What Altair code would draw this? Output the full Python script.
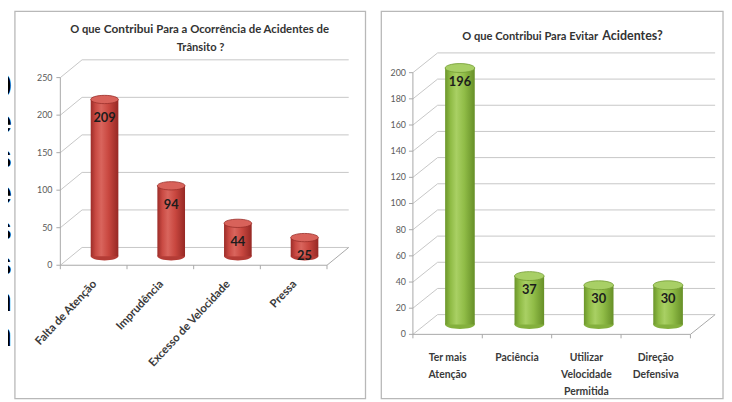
import altair as alt
import pandas as pd

# ---------------- data ----------------
left_categories = ["Falta de Atenção", "Imprudência", "Excesso de Velocidade", "Pressa"]
left_values = [209, 94, 44, 25]
left_ticks = [0, 50, 100, 150, 200, 250]
left_title_parts = ["O que", "Contribui", "Para a Ocorrência de Acidentes de", "Trânsito ?"]

right_categories = ["Ter mais Atenção", "Paciência", "Utilizar Velocidade Permitida", "Direção Defensiva"]
right_labels = ["Ter mais\nAtenção", "Paciência", "Utilizar\nVelocidade\nPermitida", "Direção\nDefensiva"]
right_values = [196, 37, 30, 30]
right_ticks = [0, 20, 40, 60, 80, 100, 120, 140, 160, 180, 200]
right_title_parts = ["O que Contribui Para Evitar", "Acidentes?"]

side_letters = "0\ne\ns\ne\ns\ns\nn\nn"

# ---------------- style ----------------
FONT = "Lato"
GRID = "#c6c6c6"
AXIS = "#a8a8a8"
BORDER = "#b8b8b8"
TITLE_C = "#333333"
ELLIPSE = "M-1,0A1,0.3,0,1,1,1,0A1,0.3,0,1,1,-1,0Z"

RED_STOPS = [("#9c2c28", 0.0), ("#c94a43", 0.18), ("#d9655d", 0.38), ("#c8473f", 0.65), ("#962824", 1.0)]
GREEN_STOPS = [("#6b962a", 0.0), ("#8fbb45", 0.18), ("#a9d064", 0.38), ("#90bc47", 0.65), ("#668f27", 1.0)]


def grad(stops):
    return alt.Gradient(
        gradient="linear",
        stops=[alt.GradientStop(color=c, offset=o) for c, o in stops],
        x1=0, x2=1, y1=0, y2=0,
    )


ONE = pd.DataFrame({"a": [0]})


def title_piece(text, x, y, size, align):
    return alt.Chart(ONE).mark_text(
        font=FONT, fontSize=size, fontWeight="bold", color=TITLE_C, align=align,
        baseline="alphabetic").encode(x=alt.value(x), y=alt.value(y), text=alt.value(text))


def panel(cats, labels, values, ticks, ymax, yrange, xrange, dx, dy, bw,
          stops, body_mid, top_fill, top_stroke, val_off, ytick_x,
          rotated, label_y, titles, width, height):
    n = len(cats)
    bars = pd.DataFrame({"cat": cats, "label": labels, "value": values, "zero": [0] * n})
    tk = pd.DataFrame({"tick": ticks})
    zero = pd.DataFrame({"tick": [0], "hi": [ymax]})

    xs = alt.Scale(domain=cats, range=list(xrange), paddingInner=0, paddingOuter=0)
    ys = alt.Scale(domain=[0, ymax], range=list(yrange))
    X = alt.X("cat:N", scale=xs, axis=None)
    x0, x1 = xrange

    def Yq(f):
        return alt.Y(f, type="quantitative", scale=ys, axis=None)

    border = alt.Chart(ONE).mark_rect(fill="white", stroke=BORDER, strokeWidth=1.3).encode(
        x=alt.value(0), x2=alt.value(width), y=alt.value(0), y2=alt.value(height))

    back = alt.Chart(tk).mark_rule(color=GRID, strokeWidth=1, yOffset=dy).encode(
        x=alt.value(x0 + dx), x2=alt.value(x1 + dx), y=Yq("tick"))
    diag = alt.Chart(tk).mark_rule(color=GRID, strokeWidth=1, y2Offset=dy).encode(
        x=alt.value(x0), x2=alt.value(x0 + dx), y=Yq("tick"), y2=alt.Y2("tick"))
    floor_front = alt.Chart(zero).mark_rule(color=AXIS, strokeWidth=1).encode(
        x=alt.value(x0), x2=alt.value(x1), y=Yq("tick"))
    floor_right = alt.Chart(zero).mark_rule(color=AXIS, strokeWidth=1, y2Offset=dy).encode(
        x=alt.value(x1), x2=alt.value(x1 + dx), y=Yq("tick"), y2=alt.Y2("tick"))
    yaxis = alt.Chart(zero).mark_rule(color=AXIS, strokeWidth=1).encode(
        x=alt.value(x0), y=Yq("tick"), y2=alt.Y2("hi"))
    yticks = alt.Chart(tk).mark_rule(color=AXIS, strokeWidth=1).encode(
        x=alt.value(x0 - 4), x2=alt.value(x0), y=Yq("tick"))
    xticks = alt.Chart(bars).mark_rule(color=AXIS, strokeWidth=1, y2Offset=4).encode(
        x=alt.X("cat:N", scale=xs, axis=None, bandPosition=0), y=Yq("zero"), y2=alt.Y2("zero"))
    xtick_end = alt.Chart(zero).mark_rule(color=AXIS, strokeWidth=1, y2Offset=4).encode(
        x=alt.value(x1), y=Yq("tick"), y2=alt.Y2("tick"))

    bottom = alt.Chart(bars).mark_point(
        shape=ELLIPSE, size=bw * bw, filled=True, fill=body_mid, opacity=1, strokeWidth=0,
        xOffset=dx / 2, yOffset=dy / 2).encode(x=X, y=Yq("zero"))
    body = alt.Chart(bars).mark_bar(
        size=bw, color=grad(stops), xOffset=dx / 2, yOffset=dy / 2, y2Offset=dy / 2).encode(
        x=X, y=Yq("value"), y2=alt.Y2("zero"))
    top = alt.Chart(bars).mark_point(
        shape=ELLIPSE, size=bw * bw, filled=True, fill=top_fill, stroke=top_stroke,
        strokeWidth=0.8, opacity=1, xOffset=dx / 2, yOffset=dy / 2).encode(x=X, y=Yq("value"))
    vals = alt.Chart(bars).mark_text(
        font=FONT, fontSize=13, fontWeight="bold", color="#1c1c1c", align="center",
        baseline="middle", xOffset=dx / 2, yOffset=dy / 2 + val_off).encode(
        x=X, y=Yq("value"), text="value:Q")

    ylabels = alt.Chart(tk).mark_text(
        font=FONT, fontSize=9, color="#5a5a5a", align="right", baseline="middle").encode(
        x=alt.value(ytick_x), y=Yq("tick"), text="tick:Q")

    if rotated:
        cat_labels = alt.Chart(bars).mark_text(
            font=FONT, fontSize=11.5, fontWeight="bold", color="#3a3a3a", angle=313,
            align="right", baseline="middle", dx=2).encode(
            x=X, y=alt.value(label_y), text="label:N")
    else:
        cat_labels = alt.Chart(bars).mark_text(
            font=FONT, fontSize=10.5, fontWeight="bold", color="#3a3a3a", align="center",
            baseline="top", lineBreak="\n", lineHeight=17).encode(
            x=X, y=alt.value(label_y), text="label:N")

    return alt.layer(
        border, back, diag, floor_front, floor_right, yaxis, yticks, xticks, xtick_end,
        bottom, body, top, vals, ylabels, cat_labels, *titles,
    ).properties(width=width, height=height)


left_titles = [
    title_piece(left_title_parts[0], 56, 22, 11.3, "left"),
    title_piece(left_title_parts[1], 90, 22, 12.0, "left"),
    title_piece(left_title_parts[2], 318, 22, 11.5, "right"),
    title_piece(left_title_parts[3], 188, 40, 11.3, "center"),
]
right_titles = [
    title_piece(right_title_parts[0], 82, 29, 11.3, "left"),
    title_piece(right_title_parts[1], 285, 29, 12.6, "right"),
]

left = panel(
    left_categories, left_categories, left_values, left_ticks, 250,
    (257, 67), (46, 316), 22, -18, 28,
    RED_STOPS, "#b43c36", "#d8625a", "#9a2f2a", 19, 38,
    True, 276, left_titles, 355, 392,
)

right = panel(
    right_categories, right_labels, right_values, right_ticks, 200,
    (327, 62), (32, 313), 25, -20, 30,
    GREEN_STOPS, "#84b03d", "#a8cf66", "#739c34", 14, 25,
    False, 346, right_titles, 346, 392,
)

letters = alt.Chart(ONE).mark_text(
    font="Liberation Sans", fontSize=34, fontWeight="bold", color="black",
    align="right", baseline="middle", lineBreak="\n", lineHeight=36, clip=True).encode(
    x=alt.value(4), y=alt.value(77), text=alt.value(side_letters)
).properties(width=6, height=392)

chart = alt.hconcat(
    letters,
    alt.hconcat(left, right, spacing=14),
    spacing=0,
).properties(
    padding={"left": 0, "top": 0, "right": 0, "bottom": 0},
    background="white",
).configure_view(strokeWidth=0)

chart.save("out.html", embed_options={"renderer": "svg", "actions": False})
